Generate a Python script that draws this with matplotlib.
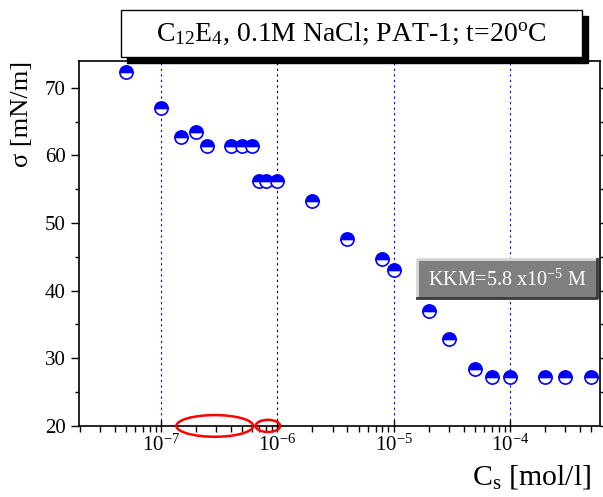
import numpy as np
import matplotlib.pyplot as plt
from matplotlib.patches import Rectangle, Ellipse
from matplotlib.ticker import LogLocator, LogFormatterMathtext, MultipleLocator
from matplotlib.lines import Line2D

plt.rcParams['font.family'] = 'Liberation Serif'
plt.rcParams['mathtext.fontset'] = 'custom'
plt.rcParams['mathtext.rm'] = 'Liberation Serif'
plt.rcParams['mathtext.it'] = 'Liberation Serif:italic'

# dane: stezenie [mol/l] i napiecie powierzchniowe [mN/m]
cs = [5e-8, 1e-7, 1.5e-7, 2e-7, 2.5e-7, 4e-7, 5e-7, 6e-7, 7e-7, 8e-7, 1e-6,
      2e-6, 4e-6, 8e-6, 1e-5, 2e-5, 3e-5, 5e-5, 7e-5, 1e-4, 2e-4, 3e-4, 5e-4]
sigma = [72.3, 67.0, 62.7, 63.4, 61.4, 61.4, 61.4, 61.4, 56.2, 56.2, 56.2,
         53.2, 47.6, 44.7, 43.0, 37.0, 32.9, 28.4, 27.2, 27.2, 27.3, 27.3, 27.3]

# linie pionowe
grid_x = [1e-7, 1e-6, 1e-5, 1e-4]
grid_col = ['blue', 'black', 'blue', 'blue']

# czerwone elipsy (srodek x w mol/l, szerokosc w dekadach, wysokosc w mN/m)
ell_x = [2.9e-7, 8.3e-7]
ell_w = [0.66, 0.21]
ell_h = [3.2, 1.8]

xmin_log, xmax_log = -7.705, -3.226
ymin, ymax = 20, 74

fig = plt.figure(figsize=(6.03, 4.97), dpi=100)
ax = fig.add_axes([0.131, 0.143, 0.864, 0.735])

for gx, gc in zip(grid_x, grid_col):
    ax.axvline(gx, color=gc, ls=(0, (2, 3)), lw=0.8, zorder=1)

ax.plot(cs, sigma, 'o', ls='none', ms=9.5, mec='blue', mfc='blue',
        fillstyle='top', markerfacecoloralt='white', mew=1.2, zorder=3)

ax.set_xscale('log')
ax.set_xlim(10**xmin_log, 10**xmax_log)
ax.set_ylim(ymin, ymax)
ax.xaxis.set_major_locator(LogLocator(base=10, numticks=10))
ax.xaxis.set_minor_locator(LogLocator(base=10, subs=np.arange(2, 10), numticks=10))
ax.xaxis.set_major_formatter(LogFormatterMathtext())
ax.yaxis.set_major_locator(MultipleLocator(10))
ax.yaxis.set_minor_locator(MultipleLocator(5))
ax.tick_params(axis='x', which='major', direction='inout', length=9, width=1, labelsize=15, pad=2)
ax.tick_params(axis='x', which='minor', direction='out', length=4, width=1)
ax.tick_params(axis='y', which='major', direction='out', length=6, width=1, labelsize=15)
ax.tick_params(axis='y', which='minor', direction='out', length=3, width=1)
ax.tick_params(right=True, which='both')
for s in ax.spines.values():
    s.set_linewidth(1.2)

# elipsy w ukladzie osi (x przeliczony z log10)
for ex, ew, eh in zip(ell_x, ell_w, ell_h):
    cx = (np.log10(ex) - xmin_log) / (xmax_log - xmin_log)
    wx = ew / (xmax_log - xmin_log)
    hy = eh / (ymax - ymin)
    ax.add_patch(Ellipse((cx, 0), wx, hy, transform=ax.transAxes, fill=False,
                         ec='red', lw=1.8, clip_on=False, zorder=5))

ax.set_ylabel('σ [mN/m]', fontsize=19)
ax.yaxis.set_label_coords(-0.088, 0.855)
fig.text(0.98, 0.04, r'C$_\mathrm{s}$ [mol/l]', fontsize=21.5, ha='right', va='center')

# ramka tytulu z cieniem
fig.patches.append(Rectangle((0.2105, 0.874), 0.7645, 0.0946, transform=fig.transFigure,
                             fc='black', ec='black', zorder=10))
fig.patches.append(Rectangle((0.2007, 0.8853), 0.7645, 0.0946, transform=fig.transFigure,
                             fc='white', ec='black', lw=1, zorder=11))
fig.text(0.583, 0.932, r'C$_{12}$E$_4$, 0.1M NaCl; PAT-1; t=20$^\mathrm{o}$C',
         fontsize=20, ha='center', va='center', zorder=12)

# ramka KKM
kx0, ky0, kw, kh = 0.6915, (497 - 298) / 497, 0.2985, 39 / 497
fig.patches.append(Rectangle((kx0, ky0), kw, kh, transform=fig.transFigure,
                             fc='#7f7f7f', ec='none', zorder=10))
fig.lines.append(Line2D([kx0, kx0, kx0 + kw], [ky0, ky0 + kh, ky0 + kh], transform=fig.transFigure,
                        color='#d8d8d8', lw=2, zorder=11))
fig.lines.append(Line2D([kx0, kx0 + kw, kx0 + kw], [ky0, ky0, ky0 + kh], transform=fig.transFigure,
                        color='#3a3a3a', lw=2, zorder=11))
fig.text(kx0 + kw / 2, ky0 + kh / 2 - 0.004, r'KKM=5.8 x10$^{-5}$ M', color='white',
         fontsize=14.5, ha='center', va='center', zorder=12)

fig.savefig('out.png', dpi=100)
